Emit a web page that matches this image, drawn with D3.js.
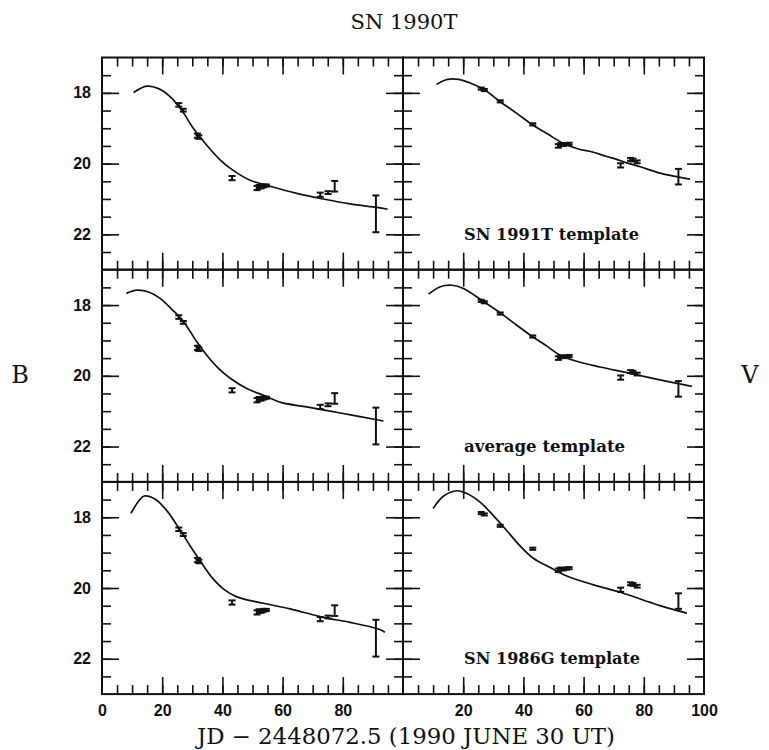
<!DOCTYPE html>
<html>
<head>
<meta charset="utf-8">
<script src="https://cdn.jsdelivr.net/npm/d3@7"></script>
<style>
  body { margin: 0; background: #fff; }
  svg { display: block; }
</style>
</head>
<body>
<svg id="main-svg"></svg>
<script>
// observed points (days since JD 2448072.5), same in every row
const B_DAYS = [25.5, 27.0, 31.7, 32.2, 43.2, 51.5, 52.2, 52.9, 53.7, 54.6, 72.5, 75.1, 77.3, 91.0];
const B_MAGS = [18.34, 18.49, 19.21, 19.25, 20.41, 20.69, 20.65, 20.66, 20.63, 20.62, 20.88, 20.82, 20.64, 21.42];
const B_ERRS = [0.05, 0.04, 0.06, 0.05, 0.06, 0.06, 0.05, 0.04, 0.04, 0.03, 0.06, 0.04, 0.15, 0.52];

const V_DAYS = [26.0, 27.0, 32.3, 43.1, 51.6, 52.4, 53.3, 54.3, 55.2, 72.3, 75.6, 76.4, 77.8, 91.5];
const V_MAGS = [17.88, 17.92, 18.24, 18.89, 19.50, 19.46, 19.47, 19.45, 19.44, 20.05, 19.88, 19.90, 19.95, 20.37];
const V_ERRS = [0.03, 0.03, 0.03, 0.03, 0.05, 0.04, 0.03, 0.03, 0.03, 0.06, 0.04, 0.04, 0.04, 0.22];

// template curves
const B_1991T_DAYS = [10.5, 14.9, 18.8, 22.7, 26.5, 30.4, 34.8, 39.3, 43.7, 49.2, 55.9, 64.7, 73.5, 82.4, 91.3, 94.9];
const B_1991T_MAGS = [17.99, 17.81, 17.88, 18.11, 18.49, 19.01, 19.48, 19.90, 20.20, 20.47, 20.64, 20.84, 21.00, 21.14, 21.24, 21.29];
const V_1991T_DAYS = [11.1, 14.8, 18.5, 22.3, 26.8, 32.3, 37.8, 43.1, 47.8, 53.3, 58.0, 63.3, 67.7, 71.0, 74.3, 78.8, 85.4, 90.4, 95.4];
const V_1991T_MAGS = [17.76, 17.62, 17.62, 17.72, 17.90, 18.25, 18.58, 18.91, 19.15, 19.43, 19.58, 19.68, 19.80, 19.88, 19.98, 20.09, 20.27, 20.36, 20.44];

const B_AVG_DAYS = [8.1, 11.6, 15.5, 19.3, 23.2, 27.1, 31.5, 34.8, 38.7, 42.6, 48.1, 54.8, 59.7, 68.0, 75.8, 83.5, 91.8, 93.5];
const B_AVG_MAGS = [17.67, 17.58, 17.63, 17.81, 18.12, 18.47, 19.04, 19.42, 19.79, 20.07, 20.36, 20.59, 20.76, 20.88, 21.00, 21.12, 21.25, 21.28];
const V_AVG_DAYS = [8.5, 12.4, 16.3, 20.1, 26.4, 32.3, 37.8, 43.1, 47.8, 52.2, 57.7, 65.5, 73.2, 81.9, 89.0, 96.0];
const V_AVG_MAGS = [17.69, 17.48, 17.44, 17.53, 17.88, 18.22, 18.57, 18.90, 19.16, 19.42, 19.59, 19.75, 19.89, 20.05, 20.18, 20.30];

const B_1986G_DAYS = [9.6, 12.2, 14.0, 17.7, 21.6, 25.4, 29.3, 32.6, 36.5, 40.4, 44.8, 53.6, 62.5, 73.5, 82.4, 91.8, 94.0];
const B_1986G_MAGS = [17.89, 17.54, 17.40, 17.49, 17.82, 18.29, 18.81, 19.23, 19.70, 20.03, 20.25, 20.43, 20.59, 20.83, 20.97, 21.16, 21.25];
const V_1986G_DAYS = [10.0, 13.5, 17.9, 21.2, 25.7, 30.1, 34.5, 38.9, 43.3, 48.9, 54.4, 63.3, 72.1, 81.9, 85.4, 94.3];
const V_1986G_MAGS = [17.75, 17.40, 17.25, 17.33, 17.58, 17.96, 18.38, 18.81, 19.16, 19.42, 19.66, 19.91, 20.12, 20.40, 20.50, 20.71];

const TEMPLATE_LABELS = ["SN 1991T template", "average template", "SN 1986G template"];
const LEFT_X_LABELS = [0, 20, 40, 60, 80];
const RIGHT_X_LABELS = [20, 40, 60, 80, 100];
const Y_LABELS = [18, 20, 22];

// FIXED
CANVAS_WIDTH = 769
CANVAS_HEIGHT = 750
PANEL_X = 102
PANEL_Y = 57.5
PANEL_WIDTH = 301
PANEL_HEIGHT = 212.2
MAJOR_TICK = 17
MINOR_TICK = 9
CAP = 3.5
INK = "#111"

const svg = d3.select("#main-svg")
  .attr("width", CANVAS_WIDTH)
  .attr("height", CANVAS_HEIGHT)
  .style("background", "#fff");

const x = d3.scaleLinear().domain([0, 100]).range([0, PANEL_WIDTH]);
const y = d3.scaleLinear().domain([17, 23]).range([0, PANEL_HEIGHT]);

const zip = (days, mags, errs) => days.map((d, i) => ({ t: d, m: mags[i], e: errs ? errs[i] : 0 }));

const bPoints = zip(B_DAYS, B_MAGS, B_ERRS);
const vPoints = zip(V_DAYS, V_MAGS, V_ERRS);
const rows = [
  { b: zip(B_1991T_DAYS, B_1991T_MAGS), v: zip(V_1991T_DAYS, V_1991T_MAGS) },
  { b: zip(B_AVG_DAYS, B_AVG_MAGS), v: zip(V_AVG_DAYS, V_AVG_MAGS) },
  { b: zip(B_1986G_DAYS, B_1986G_MAGS), v: zip(V_1986G_DAYS, V_1986G_MAGS) },
];

const line = d3.line()
  .x(d => x(d.t))
  .y(d => y(d.m))
  .curve(d3.curveCatmullRom.alpha(0.5));

const minorDays = d3.range(5, 100, 5);
const majorDays = [20, 40, 60, 80];
const minorMags = d3.range(17.5, 23, 0.5);
const majorMags = Y_LABELS;

const drawTicks = (g) => {
  const sides = [
    [d3.axisTop(x), 0, 0, minorDays, majorDays],
    [d3.axisBottom(x), 0, PANEL_HEIGHT, minorDays, majorDays],
    [d3.axisLeft(y), 0, 0, minorMags, majorMags],
    [d3.axisRight(y), PANEL_WIDTH, 0, minorMags, majorMags],
  ];
  sides.forEach(([axis, tx, ty, minor, major]) => {
    [[minor, MINOR_TICK], [major, MAJOR_TICK]].forEach(([vals, size]) => {
      const a = g.append("g")
        .attr("transform", `translate(${tx},${ty})`)
        .call(axis.tickValues(vals).tickSize(-size).tickFormat(""));
      a.select(".domain").remove();
      a.selectAll("line").attr("stroke", INK).attr("stroke-width", 1.6);
    });
  });
};

const drawPanel = (col, row, curve, points) => {
  const g = svg.append("g")
    .attr("transform", `translate(${PANEL_X + col * PANEL_WIDTH},${PANEL_Y + row * PANEL_HEIGHT})`);

  drawTicks(g);

  g.append("path")
    .datum(curve)
    .attr("d", line)
    .attr("fill", "none")
    .attr("stroke", INK)
    .attr("stroke-width", 1.7);

  // error bars
  const bars = g.append("g").selectAll("g").data(points).join("g")
    .attr("stroke", INK)
    .attr("stroke-width", 2);
  bars.append("line")
    .attr("x1", d => x(d.t)).attr("x2", d => x(d.t))
    .attr("y1", d => y(d.m - d.e)).attr("y2", d => y(d.m + d.e));
  bars.append("line")
    .attr("x1", d => x(d.t) - CAP).attr("x2", d => x(d.t) + CAP)
    .attr("y1", d => y(d.m - d.e)).attr("y2", d => y(d.m - d.e));
  bars.append("line")
    .attr("x1", d => x(d.t) - CAP).attr("x2", d => x(d.t) + CAP)
    .attr("y1", d => y(d.m + d.e)).attr("y2", d => y(d.m + d.e));

  g.append("rect")
    .attr("width", PANEL_WIDTH)
    .attr("height", PANEL_HEIGHT)
    .attr("fill", "none")
    .attr("stroke", INK)
    .attr("stroke-width", 2);

  return g;
};

rows.forEach((r, i) => {
  const left = drawPanel(0, i, r.b, bPoints);
  const right = drawPanel(1, i, r.v, vPoints);

  // y labels on the left column only
  const ya = left.append("g")
    .call(d3.axisLeft(y).tickValues(Y_LABELS).tickFormat(d3.format("d")).tickSize(0).tickPadding(11));
  ya.select(".domain").remove();
  ya.selectAll("text")
    .attr("fill", INK)
    .style("font", "bold 16px 'Liberation Sans', Arial, sans-serif");

  right.append("text")
    .attr("x", x(20.3))
    .attr("y", PANEL_HEIGHT - 30)
    .attr("textLength", [175, 161, 176][i])
    .attr("lengthAdjust", "spacingAndGlyphs")
    .attr("fill", INK)
    .style("font", "bold 16px 'DejaVu Serif', serif")
    .text(TEMPLATE_LABELS[i]);

  if (i == rows.length - 1) {
    [[left, LEFT_X_LABELS], [right, RIGHT_X_LABELS]].forEach(([g, vals]) => {
      const xa = g.append("g")
        .attr("transform", `translate(0,${PANEL_HEIGHT})`)
        .call(d3.axisBottom(x).tickValues(vals).tickFormat(d3.format("d")).tickSize(0).tickPadding(11));
      xa.select(".domain").remove();
      xa.selectAll("text")
        .attr("fill", INK)
        .style("font", "bold 16px 'Liberation Sans', Arial, sans-serif");
    });
  }
});

const serif = "'DejaVu Serif', serif";

svg.append("text")
  .attr("x", 404).attr("y", 29)
  .attr("text-anchor", "middle")
  .attr("fill", INK)
  .style("font", `21px ${serif}`)
  .text("SN 1990T");

svg.append("text")
  .attr("x", 197).attr("y", 744)
  .attr("textLength", 418)
  .attr("lengthAdjust", "spacingAndGlyphs")
  .attr("fill", INK)
  .style("font", `22px ${serif}`)
  .text("JD \u2212 2448072.5 (1990 JUNE 30 UT)");

svg.append("text")
  .attr("x", 20).attr("y", 383)
  .attr("text-anchor", "middle")
  .attr("fill", INK)
  .style("font", `24px ${serif}`)
  .text("B");

svg.append("text")
  .attr("x", 750).attr("y", 383)
  .attr("text-anchor", "middle")
  .attr("fill", INK)
  .style("font", `24px ${serif}`)
  .text("V");
</script>
</body>
</html>
